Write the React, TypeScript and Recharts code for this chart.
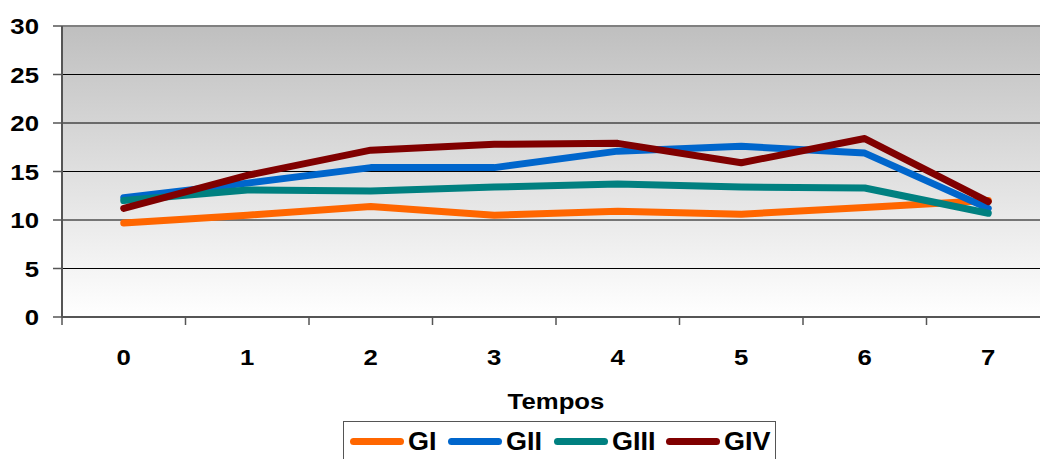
import { CartesianGrid, Legend, Line, LineChart, ReferenceLine, XAxis, YAxis } from "recharts";

const tempos = ["0", "1", "2", "3", "4", "5", "6", "7"];
const gI = [9.7, 10.5, 11.4, 10.5, 10.9, 10.6, 11.3, 12.0];
const gII = [12.3, 13.8, 15.4, 15.4, 17.1, 17.6, 16.9, 11.2];
const gIII = [12.0, 13.1, 13.0, 13.4, 13.7, 13.4, 13.3, 10.7];
const gIV = [11.2, 14.6, 17.2, 17.8, 17.9, 15.9, 18.4, 11.9];
const yTicks = [0, 5, 10, 15, 20, 25, 30];

const series = [
  { key: "GI", color: "#ff6600" },
  { key: "GII", color: "#0066cc" },
  { key: "GIII", color: "#008080" },
  { key: "GIV", color: "#800000" },
];

const chartData = tempos.map((t, i) => ({
  t,
  GI: gI[i],
  GII: gII[i],
  GIII: gIII[i],
  GIV: gIV[i],
}));

const FONT = "Arial, 'Liberation Sans', sans-serif";
const WIDE = 1.17; // the bold labels are drawn a bit stretched sideways

function WideText({ x, y, anchor, children }: any) {
  return (
    <text
      transform={`translate(${x},${y}) scale(${WIDE},1)`}
      textAnchor={anchor}
      fontFamily={FONT}
      fontWeight="bold"
      fontSize={22}
      fill="#000"
    >
      {children}
    </text>
  );
}

// label in the middle of the category, tick mark on its left boundary
function TempoTick(props: any) {
  const { x, y, payload } = props;
  const half = payload && payload.offset ? payload.offset : 61.75;
  return (
    <g>
      <line x1={x - half} x2={x - half} y1={y - 8} y2={y} stroke="#555" strokeWidth={1.5} />
      <WideText x={x} y={y + 40} anchor="middle">{payload.value}</WideText>
    </g>
  );
}

function ValueTick(props: any) {
  const { x, y, payload } = props;
  return <WideText x={x} y={y + 8} anchor="end">{payload.value}</WideText>;
}

function TemposLabel(props: any) {
  const vb = props.viewBox || {};
  return <WideText x={vb.x + vb.width / 2} y={vb.y + vb.height - 12} anchor="middle">Tempos</WideText>;
}

function LegendBox() {
  return (
    <div
      style={{
        width: 433,
        height: 41,
        boxSizing: "border-box",
        border: "1.5px solid #555",
        background: "#fff",
        display: "flex",
        alignItems: "center",
        justifyContent: "center",
        gap: 12,
        fontFamily: FONT,
        fontWeight: "bold",
        fontSize: 25,
      }}
    >
      {series.map((s) => (
        <div key={s.key} style={{ display: "flex", alignItems: "center", gap: 4 }}>
          <span style={{ display: "inline-block", width: 54, height: 7, borderRadius: 4, background: s.color }} />
          <span style={{ display: "inline-block", transform: "scaleX(1.08)", transformOrigin: "left center", marginRight: 2 }}>{s.key}</span>
        </div>
      ))}
    </div>
  );
}

export default function App() {
  return (
    <div style={{ position: "absolute", left: 0, top: 0, width: 1040, height: 459, overflow: "hidden", background: "#fff" }}>
      <LineChart width={1060} height={462} data={chartData} margin={{ top: 26, right: 10, left: 0, bottom: 0 }}>
        <defs>
          <linearGradient id="plotBg" x1="0" y1="0" x2="0" y2="1">
            <stop offset="0%" stopColor="#bfbfbf" />
            <stop offset="100%" stopColor="#ffffff" />
          </linearGradient>
        </defs>
        <CartesianGrid vertical={false} stroke="#000" fill="url(#plotBg)" fillOpacity={1} />
        <ReferenceLine y={30} stroke="#808080" strokeWidth={2} />
        <XAxis
          dataKey="t"
          scale="band"
          height={104}
          axisLine={{ stroke: "#555", strokeWidth: 2 }}
          tickLine={false}
          tickSize={8}
          tickMargin={0}
          tick={<TempoTick />}
          interval={0}
          label={<TemposLabel />}
        />
        <YAxis
          width={62}
          domain={[0, 30]}
          ticks={yTicks}
          interval={0}
          axisLine={{ stroke: "#555", strokeWidth: 2 }}
          tickLine={{ stroke: "#555", strokeWidth: 1.5 }}
          tickSize={9}
          tickMargin={14}
          tick={<ValueTick />}
        />
        <Legend
          content={<LegendBox />}
          wrapperStyle={{ left: 343, top: 421, bottom: "auto", width: 433, height: 41 }}
        />
        {series.map((s) => (
          <Line
            key={s.key}
            dataKey={s.key}
            stroke={s.color}
            strokeWidth={7}
            strokeLinecap="round"
            strokeLinejoin="round"
            dot={false}
            activeDot={false}
            isAnimationActive={false}
          />
        ))}
      </LineChart>
    </div>
  );
}
